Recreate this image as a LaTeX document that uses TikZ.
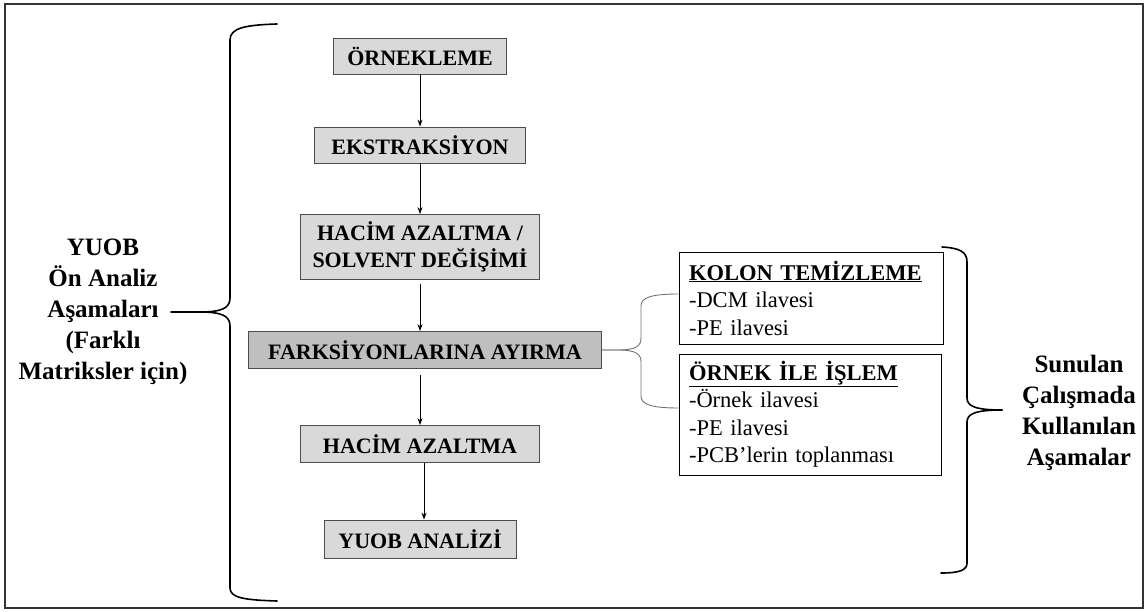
\documentclass[tikz,border=0pt]{standalone}
\usepackage{fontspec}
\setmainfont{Liberation Serif}
\usetikzlibrary{arrows.meta}
\definecolor{boxgray}{HTML}{D9D9D9}
\definecolor{darkgray}{HTML}{BFBFBF}

\begin{document}
\begin{tikzpicture}[x=1pt, y=-1pt,
    step box/.style={draw=black!70, fill=boxgray, line width=0.8pt, inner sep=0pt,
        font=\bfseries\fontsize{22}{27}\selectfont, align=center},
    info box/.style={draw=black, line width=0.8pt, inner xsep=10pt, inner ysep=0pt,
        font=\fontsize{22.5}{27.5}\selectfont, align=left},
    side label/.style={font=\bfseries\fontsize{25}{31}\selectfont, align=center},
    arr/.style={-{Stealth[length=7pt,width=5pt]}, line width=0.9pt},
    brace/.style={line width=1.6pt, line cap=round}]
    \useasboundingbox (0,0) rectangle (1147,612);
    \draw [black!80, line width=1.5pt] (5,4) rectangle (1143,608);
    % flow of steps
    \node [step box, minimum width=173, minimum height=36] (ornekleme) at (420,56) {ÖRNEKLEME};
    \node [step box, minimum width=211, minimum height=36] (ekstraksiyon) at (420,145) {EKSTRAKSİYON};
    \node [step box, minimum width=239, minimum height=65] (hacim) at (420,247) {HACİM AZALTMA /\\SOLVENT DEĞİŞİMİ};
    \node [step box, fill=darkgray, minimum width=353, minimum height=37] (fraksiyon) at (425,350) {FARKSİYONLARINA AYIRMA};
    \node [step box, minimum width=239, minimum height=37] (azaltma) at (420,444) {HACİM AZALTMA};
    \node [step box, minimum width=192, minimum height=38] (analiz) at (420,539) {YUOB ANALİZİ};
    \draw [arr] (ornekleme) -- (ekstraksiyon);
    \draw [arr] (ekstraksiyon) -- (hacim);
    \draw [arr, shorten <=4pt] (hacim) -- (hacim.south |- fraksiyon.north);
    \draw [arr, shorten <=6pt] (fraksiyon.south -| azaltma.north) -- (azaltma);
    \draw [arr] ([xshift=4pt]azaltma.south) -- ([xshift=4pt]analiz.north);
    % column cleaning boxes
    \node [info box, text width=244pt, minimum height=92] (kolon) at (811,298)
        {\underline{\textbf{KOLON TEMİZLEME}}\\-DCM ilavesi\\-PE ilavesi};
    \node [info box, text width=242pt, minimum height=121] (islem) at (810,414.5)
        {\underline{\textbf{ÖRNEK İLE İŞLEM}}\\-Örnek ilavesi\\-PE ilavesi\\-PCB’lerin toplanması};
    \draw [black!55, line width=0.9pt] (fraksiyon.east) -- (618,350) .. controls (636,350) and (641,346) .. (641,338)
        -- (641,306) .. controls (641,298) and (650,294) .. ([yshift=4pt]kolon.west);
    \draw [black!55, line width=0.9pt] (fraksiyon.east) -- (618,350) .. controls (636,350) and (641,354) .. (641,362)
        -- (641,396) .. controls (641,404) and (650,408) .. ([yshift=6.5pt]islem.west);
    % braces and side labels
    \node [side label] (onanaliz) at (103,312) {YUOB\\Ön Analiz\\Aşamaları\\(Farklı\\Matriksler için)};
    \node [side label] (sunulan) at (1079,413) {Sunulan\\Çalışmada\\Kullanılan\\Aşamalar};
    \draw [brace] (277,24) .. controls (245,25) and (230,28) .. (230,40) -- (230,298)
        .. controls (230,308) and (222,312) .. (200,312) -- (171,312);
    \draw [brace] (200,312) .. controls (222,312) and (230,316) .. (230,326) -- (230,588)
        .. controls (230,598) and (245,600) .. (277,601);
    \draw [brace] (942,247) .. controls (960,248) and (967,252) .. (967,262) -- (967,398)
        .. controls (967,406) and (975,410) .. (1002,410);
    \draw [brace] (1002,410) .. controls (975,410) and (967,414) .. (967,422) -- (967,563)
        .. controls (967,570) and (960,573) .. (941,573);
\end{tikzpicture}
\end{document}
